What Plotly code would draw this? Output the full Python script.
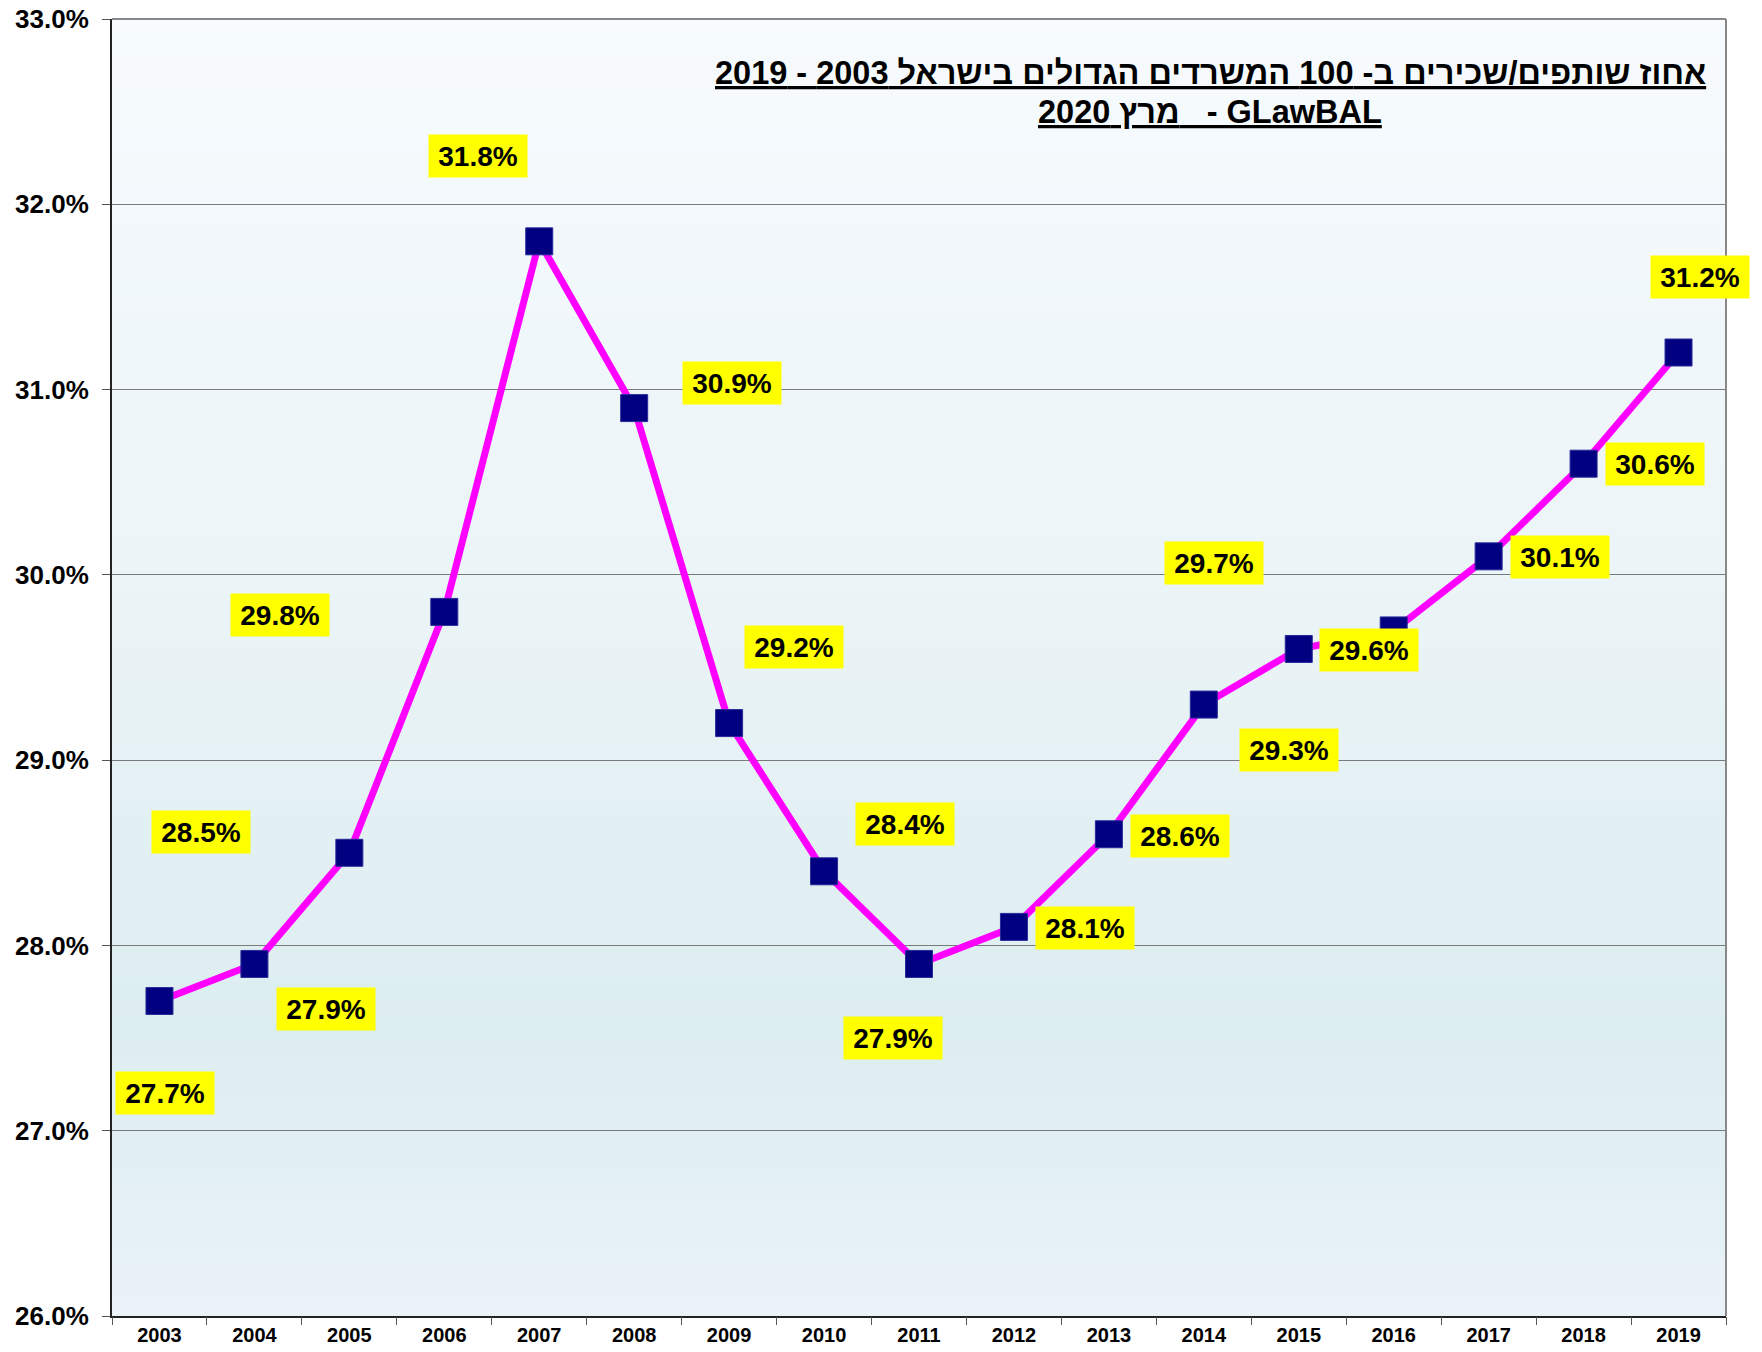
import plotly.graph_objects as go

years = ["2003", "2004", "2005", "2006", "2007", "2008", "2009", "2010", "2011",
         "2012", "2013", "2014", "2015", "2016", "2017", "2018", "2019"]
values = [27.7, 27.9, 28.5, 29.8, 31.8, 30.9, 29.2, 28.4, 27.9,
          28.1, 28.6, 29.3, 29.6, 29.7, 30.1, 30.6, 31.2]
y_ticks = [26, 27, 28, 29, 30, 31, 32, 33]
y_tick_text = ["26.0%", "27.0%", "28.0%", "29.0%", "30.0%", "31.0%", "32.0%", "33.0%"]
title_line1 = "אחוז שותפים/שכירים ב- 100 המשרדים הגדולים בישראל 2003 - 2019"
title_line2 = "מרץ 2020   - GLawBAL"

# label placement offsets (pixels) relative to each point
label_dx = [6, 72, -148, -164, -61, 98, 65, 81, -26, 71, 71, 85, 70, -180, 71, 71, 21]
label_dy = [-92, -45, 21, -3, 85, 25, 76, 47, -74, -1, -2, -45, -1, 67, -1, 0, 76]

FONT = "Liberation Sans, Arial, sans-serif"

fig = go.Figure()
fig.add_trace(go.Scatter(
    x=list(range(len(years))), y=values, mode="lines+markers",
    line=dict(color="#ff00ff", width=7),
    marker=dict(symbol="square", size=27, color="#000080",
                line=dict(color="#2a2a9a", width=1)),
    cliponaxis=False, showlegend=False, hoverinfo="skip"))

# gradient background bands
stops = [(0.0, (234, 243, 248)), (0.22, (220, 237, 240)), (0.5, (233, 243, 246)),
         (1.0, (247, 251, 254))]
def col(t):
    for (t0, c0), (t1, c1) in zip(stops[:-1], stops[1:]):
        if t0 <= t <= t1:
            f = (t - t0) / (t1 - t0)
            return "rgb(%d,%d,%d)" % tuple(round(a + (b - a) * f) for a, b in zip(c0, c1))
    return "rgb(%d,%d,%d)" % stops[-1][1]
n = 70
shapes = []
for i in range(n):
    shapes.append(dict(type="rect", xref="paper", yref="paper", x0=0, x1=1,
                       y0=i / n, y1=(i + 1) / n + 0.001, layer="below",
                       line=dict(width=0), fillcolor=col((i + 0.5) / n)))
shapes.append(dict(type="line", xref="paper", yref="paper", x0=1, x1=1, y0=0, y1=1,
                   line=dict(color="#888888", width=2)))
shapes.append(dict(type="line", xref="paper", yref="paper", x0=0, x1=1, y0=1, y1=1,
                   line=dict(color="#888888", width=2)))

annotations = []
for i, (v, dx, dy) in enumerate(zip(values, label_dx, label_dy)):
    annotations.append(dict(
        x=i, y=v, xref="x", yref="y", text="<b>%.1f%%</b>" % v, showarrow=False,
        xshift=dx, yshift=dy, bgcolor="#ffff00", borderpad=5, width=88, height=32,
        font=dict(family=FONT, size=28, color="black")))
for txt, ty in [(title_line1, 0.9584), (title_line2, 0.9283)]:
    annotations.append(dict(
        x=0.6806, y=ty, xref="paper", yref="paper", xanchor="center", yanchor="middle",
        showarrow=False, align="center", text="<b><u>" + txt + "</u></b>",
        font=dict(family=FONT, size=32.5, color="black")))

fig.update_layout(
    width=1762, height=1352,
    margin=dict(l=112, r=36, t=19, b=36),
    paper_bgcolor="white", plot_bgcolor="#eef5f8",
    shapes=shapes, annotations=annotations,
    xaxis=dict(tickmode="array", tickvals=list(range(len(years))), ticktext=["<b>" + y + "</b>" for y in years],
               range=[-0.5, len(years) - 0.5],
               ticks="", showline=True, linecolor="#222222", linewidth=2, mirror=False,
               showgrid=False, zeroline=False, automargin=False,
               tickfont=dict(family=FONT, size=20, color="black")),
    xaxis2=dict(overlaying="x", range=[-0.5, len(years) - 0.5], tickmode="array",
                tickvals=[i - 0.5 for i in range(len(years) + 1)], ticktext=[""] * (len(years) + 1),
                ticks="outside", ticklen=8, tickcolor="#555555", side="bottom",
                showgrid=False, zeroline=False, showline=False, automargin=False),
    yaxis=dict(range=[26, 33], tickvals=y_ticks, ticktext=["<b>" + t + "</b>" for t in y_tick_text],
               ticks="outside", ticklen=8, tickcolor="#555555",
               showline=True, linecolor="#222222", linewidth=2,
               showgrid=True, gridcolor="#7a7a7a", gridwidth=1.3, zeroline=False,
               ticklabelstandoff=8, automargin=False, ticklabeloverflow="allow",
               tickfont=dict(family=FONT, size=26, color="black")),
)
# invisible trace to activate the boundary-tick axis
fig.add_trace(go.Scatter(x=[None], y=[None], xaxis="x2", showlegend=False, hoverinfo="skip"))

fig.write_html("out.html", config={"displayModeBar": False},
               post_script="document.body.style.margin='0';document.body.style.overflow='hidden';")
